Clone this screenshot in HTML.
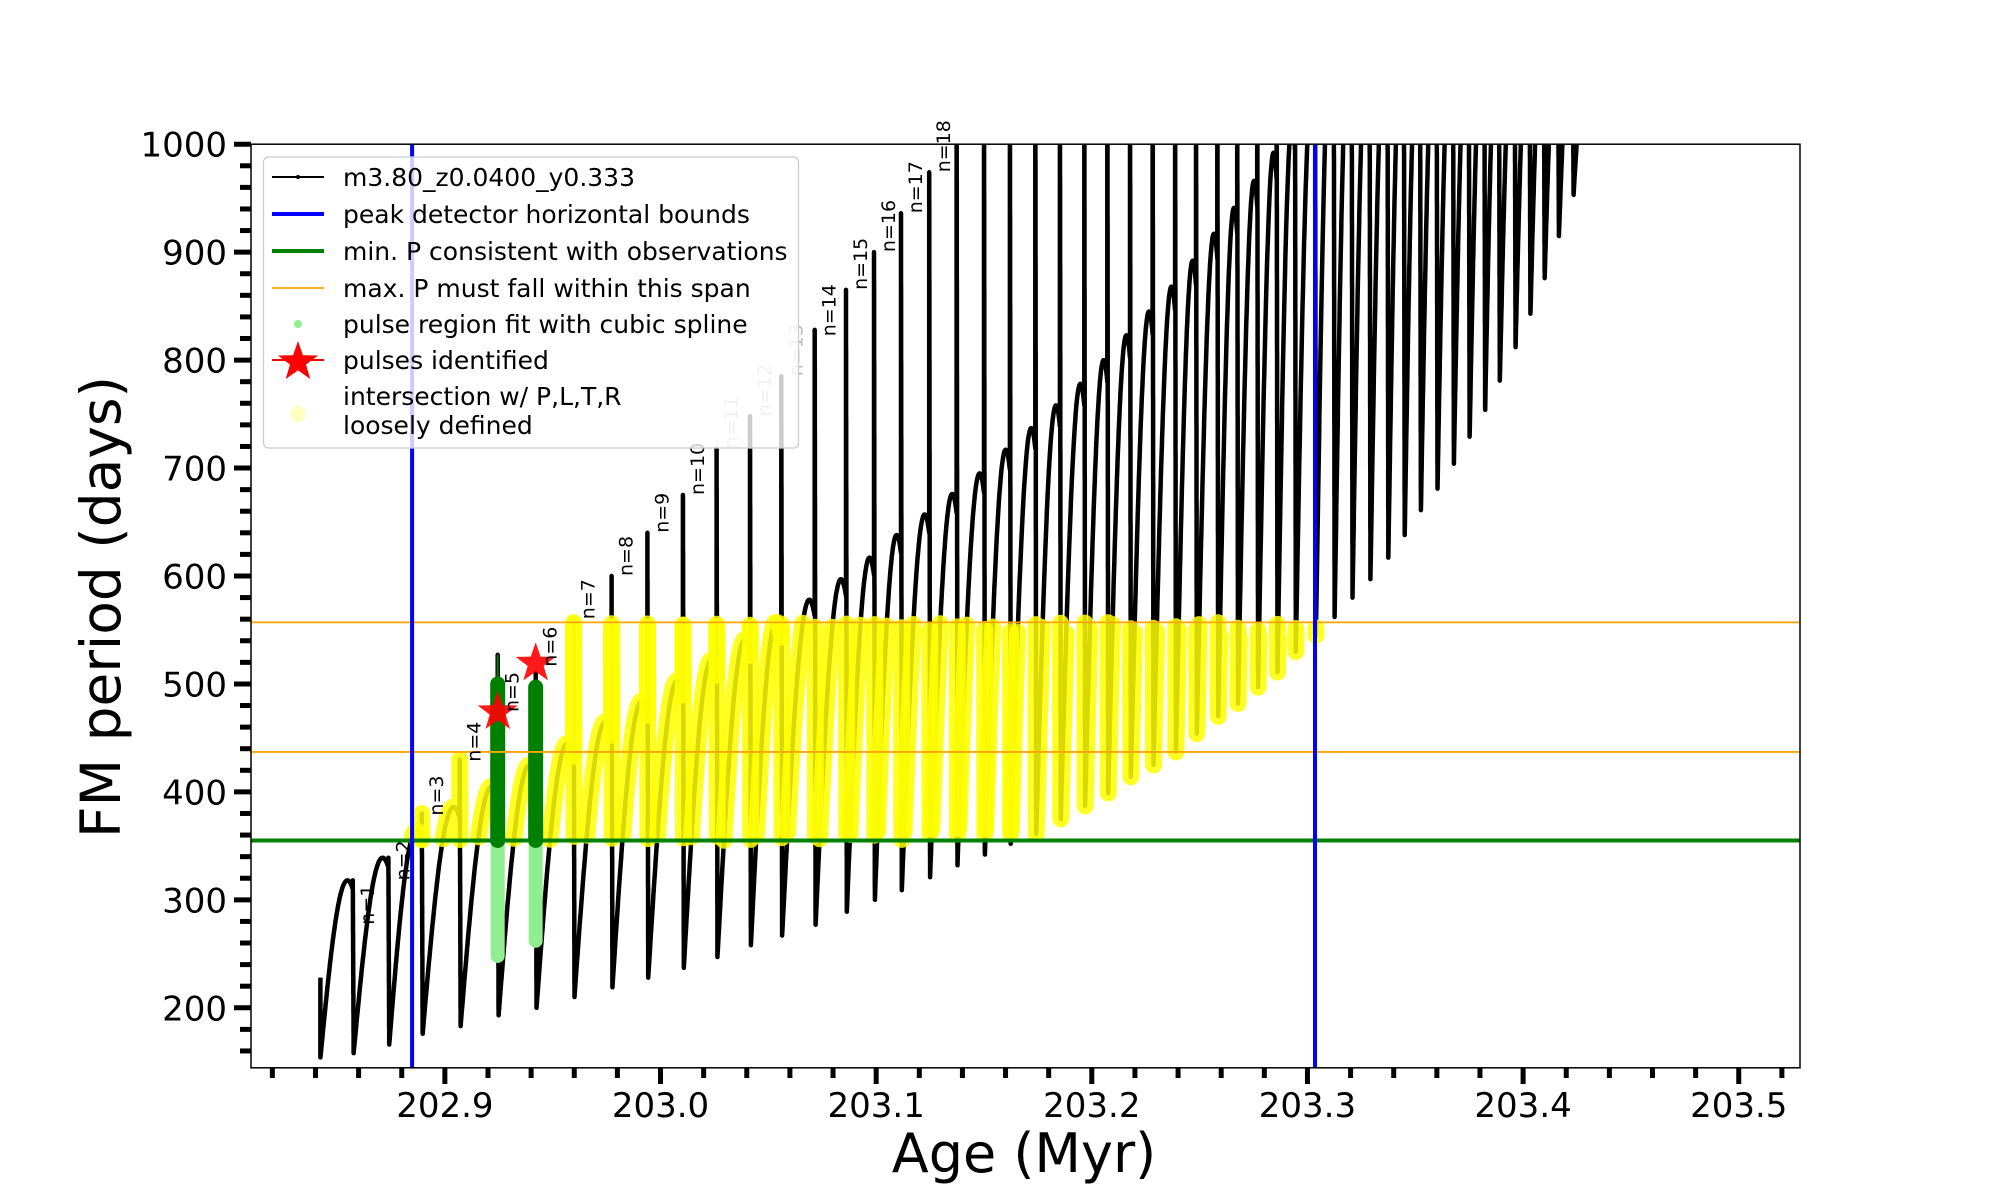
<!DOCTYPE html>
<html><head><meta charset="utf-8"><style>
html,body{margin:0;padding:0;background:#fff;}
svg{display:block;font-family:"DejaVu Sans","Liberation Sans",sans-serif;}
</style></head><body>
<svg id="chart" width="2000" height="1200" viewBox="0 0 2000 1200" xmlns="http://www.w3.org/2000/svg">
<rect x="0" y="0" width="2000" height="1200" fill="#fff"/>
<defs><clipPath id="plotclip"><rect x="251" y="144" width="1549" height="924"/></clipPath></defs>
<g id="marks" clip-path="url(#plotclip)"></g>
<g id="labels"></g>
<rect x="251" y="144.2" width="1549" height="923.6" fill="none" stroke="#000" stroke-width="1.5"/>
<g id="ticks"></g>
<text x="1024" y="1172" font-size="54" text-anchor="middle">Age (Myr)</text>
<text transform="translate(120,607) rotate(-90)" font-size="55" text-anchor="middle">FM period (days)</text>
<g>
<rect x="263.5" y="157" width="535" height="291" rx="5" fill="#fff" fill-opacity="0.8" stroke="#ccc" stroke-width="1.3"/>
<g><line x1="272" y1="177" x2="324" y2="177" stroke="#000" stroke-width="2"/><circle cx="298" cy="177" r="2" fill="#000"/><text x="343" y="186" font-size="25">m3.80_z0.0400_y0.333</text></g>
<g><line x1="272" y1="214" x2="324" y2="214" stroke="#0000ff" stroke-width="4"/><text x="343" y="223" font-size="25">peak detector horizontal bounds</text></g>
<g><line x1="272" y1="251" x2="324" y2="251" stroke="#008000" stroke-width="4"/><text x="343" y="260" font-size="25">min. P consistent with observations</text></g>
<g><line x1="272" y1="288" x2="324" y2="288" stroke="#ffa500" stroke-width="1.8"/><text x="343" y="297" font-size="25">max. P must fall within this span</text></g>
<g><circle cx="298" cy="324" r="4" fill="#90ee90"/><text x="343" y="333" font-size="25">pulse region fit with cubic spline</text></g>
<g><line x1="272" y1="360" x2="324" y2="360" stroke="#ff0000" stroke-width="2"/><path id="legstar" fill="#ff0000" d=""/><text x="343" y="369" font-size="25">pulses identified</text></g>
<g><circle cx="298" cy="414" r="8" fill="#ffff66" fill-opacity="0.4"/><text x="343" y="405" font-size="25">intersection w/ P,L,T,R</text><text x="343" y="434" font-size="25">loosely defined</text></g>
</g>
</svg>
<script>
const pulseAge = [202.8573,202.8738,202.8893,202.9069,202.9245,202.9421,202.9597,202.9773,202.9939,203.0104,203.0260,203.0415,203.0560,203.0715,203.0860,203.0990,203.1115,203.1246,203.1373,203.1500,203.1620,203.1738,203.1852,203.1965,203.2072,203.2177,203.2282,203.2386,203.2483,203.2582,203.2674,203.2767,203.2857,203.2942,203.3035,203.3122,203.3205,203.3288,203.3371,203.3447,203.3522,203.3599,203.3675,203.3748,203.3820,203.3888,203.3961,203.4030,203.4096,203.4162,203.4230];
const arcMax = [318,339,364,386,405,425,445,465,484,503,522,541,558,578,597,617,638,657,676,695,717,737,758,778,800,823,845,868,892,917,941,966,992,1020,1050,1100,1100,1100,1100,1100,1100,1100,1100,1100,1100,1100,1100,1100,1100,1100,1100];
const spikeTop = [318,339,380,430,527,510,560,600,640,675,718,748,785,828,865,900,936,974,1100,1100,1100,1100,1100,1100,1100,1100,1100,1100,1100,1100,1100,1100,1100,1100,1100,1100,1100,1100,1100,1100,1100,1100,1100,1100,1100,1100,1100,1100,1100,1100,1100];
const dipMin = [158,166,176,183,193,200,210,219,228,237,247,258,267,277,289,300,309,321,332,342,352,361,375,387,399,414,425,437,454,470,482,497,511,530,545,562,580,597,617,638,661,681,704,729,754,781,812,843,876,915,953];
const startAge = 202.8423;
const startTop = 228;
const startDip = 154;
const labelNames = ["n=1","n=2","n=3","n=4","n=5","n=6","n=7","n=8","n=9","n=10","n=11","n=12","n=13","n=14","n=15","n=16","n=17","n=18"];
const labelP = [277,318,378,428,474,516,560,600,640,675,718,748,785,822,865,900,936,974];
const greyLabels = [10,11,12];
const minP = 355;
const maxPLow = 437;
const maxPHigh = 557;
const boundLeft = 202.8848;
const boundRight = 203.3035;
const splineAges = [202.9245,202.9421];
const splineTop = [500,497];
const splineLow = [248,262];
const starAges = [202.9245,202.9421];
const starP = [474,519];
const xTicks = [202.9,203.0,203.1,203.2,203.3,203.4,203.5];
const xTickLabels = ["202.9","203.0","203.1","203.2","203.3","203.4","203.5"];
const yTicks = [200,300,400,500,600,700,800,900,1000];
const yTickLabels = ["200","300","400","500","600","700","800","900","1000"];

const NS="http://www.w3.org/2000/svg";
const X0=202.8101, X1=203.5284, Y0=144.4, Y1=1000;
function X(a){return 251+(a-X0)/(X1-X0)*1549;}
function Y(p){return 1067.8-(p-Y0)/(Y1-Y0)*923.6;}
function mk(tag,attrs,parent){const e=document.createElementNS(NS,tag);for(const k in attrs)e.setAttribute(k,attrs[k]);parent.appendChild(e);return e;}
const marks=document.getElementById('marks');
const labels=document.getElementById('labels');
const ticks=document.getElementById('ticks');

// build curve
const pts=[];
for(let j=0;j<=20;j++){pts.push([startAge,startTop+(startDip-startTop)*j/20]);}
let prevAge=startAge, prevDip=startDip;
for(let k=0;k<pulseAge.length;k++){
  const t=pulseAge[k];
  let endP=0;
  for(let j=1;j<=60;j++){const u=j/60;endP=prevDip+(arcMax[k]-prevDip)*Math.sin(u*0.6*Math.PI);pts.push([prevAge+u*(t-prevAge),endP]);}
  const top=Math.max(spikeTop[k],endP);
  for(let j=1;j<=40;j++){pts.push([t,endP+(top-endP)*j/40]);}
  for(let j=1;j<=80;j++){pts.push([t+0.0004*j/80,top+(dipMin[k]-top)*j/80]);}
  prevAge=t+0.0004; prevDip=dipMin[k];
}
for(let j=1;j<=30;j++){const u=j/30;pts.push([prevAge+u*0.0075,prevDip+(1100-prevDip)*Math.sin(u*0.55*Math.PI)]);}

const curve=mk('polyline',{points:pts.map(p=>X(p[0]).toFixed(1)+','+Y(p[1]).toFixed(1)).join(' '),fill:'none',stroke:'#000','stroke-width':4.5,'stroke-linejoin':'round'},marks);



// yellow intersection runs
const yg=mk('g',{},marks);


let run=[];
function flush(){if(run.length>0){const pl=mk('polyline',{points:run.join(' '),fill:'none',stroke:'#ffff00','stroke-opacity':0.85,'stroke-width':17,'stroke-linecap':'round','stroke-linejoin':'round'},yg);}run=[];}
for(const p of pts){
  const nearSpline=splineAges.some(s=>Math.abs(p[0]-s)<0.0008);
  const ok=!nearSpline&&p[1]>=minP&&p[1]<=maxPHigh&&p[0]>=boundLeft&&p[0]<=boundRight+0.001;
  if(ok)run.push(X(p[0]).toFixed(1)+','+Y(p[1]).toFixed(1));else flush();
}
flush();

// spline regions
for(let i=0;i<splineAges.length;i++){
  const lg=mk('line',{x1:X(splineAges[i]),x2:X(splineAges[i]),y1:Y(minP),y2:Y(splineLow[i]),stroke:'#90ee90','stroke-width':14,'stroke-linecap':'round'},marks);
  
  
  const dg=mk('line',{x1:X(splineAges[i]),x2:X(splineAges[i]),y1:Y(minP),y2:Y(splineTop[i]),stroke:'#008000','stroke-width':15,'stroke-linecap':'round'},marks);
  
  
}
const thin=mk('line',{x1:X(splineAges[0]),x2:X(splineAges[0]),y1:Y(splineTop[0]),y2:Y(527),stroke:'#008000','stroke-width':2},marks);



// reference lines
[[maxPLow,'max-p-lower-line'],[maxPHigh,'max-p-upper-line']].forEach(([v,n])=>{const l=mk('line',{x1:251,x2:1800,y1:Y(v),y2:Y(v),stroke:'#ffa500','stroke-width':1.8},marks);});
const gl=mk('line',{x1:251,x2:1800,y1:Y(minP),y2:Y(minP),stroke:'#008000','stroke-width':4},marks);


[[boundLeft,'left-bound-line'],[boundRight,'right-bound-line']].forEach(([v,n])=>{const l=mk('line',{x1:X(v),x2:X(v),y1:144,y2:1068,stroke:'#0000ff','stroke-width':4},marks);});

// labels
for(let i=0;i<labelNames.length;i++){
  const x=X(pulseAge[i])+21, y=Y(labelP[i]);
  const t=mk('text',{transform:`translate(${x.toFixed(1)},${y.toFixed(1)}) rotate(-90)`,'font-size':19,fill:greyLabels.includes(i)?'#bbbbbb':'#000'},labels);
  t.textContent=labelNames[i];
  
  
}

// stars
function star(cx,cy,R){let d='';for(let i=0;i<10;i++){const r=i%2?R*0.4:R;const a=-Math.PI/2+i*Math.PI/5;d+=(i?'L':'M')+(cx+r*Math.cos(a)).toFixed(1)+','+(cy+r*Math.sin(a)).toFixed(1);}return d+'Z';}
for(let i=0;i<starAges.length;i++){
  const s=mk('path',{d:star(X(starAges[i]),Y(starP[i]),21),fill:'#ff0000','fill-opacity':0.9},marks);
  
  
}
document.getElementById('legstar').setAttribute('d',star(298,362,21));

// ticks
for(let i=0;i<xTicks.length;i++){
  const x=X(xTicks[i]);
  const l=mk('line',{x1:x,x2:x,y1:1068,y2:1084,stroke:'#000','stroke-width':5},ticks);
  
  
  const t=mk('text',{x:x,y:1117,'font-size':34,'text-anchor':'middle'},ticks);
  t.textContent=xTickLabels[i];
  
  
}
for(let v=202.82;v<=203.521;v+=0.02){
  if(xTicks.some(m=>Math.abs(m-v)<1e-6))continue;
  const x=X(v);
  const l=mk('line',{x1:x,x2:x,y1:1068,y2:1078,stroke:'#000','stroke-width':5},ticks);
  
  
}
for(let i=0;i<yTicks.length;i++){
  const y=Y(yTicks[i]);
  const l=mk('line',{x1:234,x2:251,y1:y,y2:y,stroke:'#000','stroke-width':5},ticks);
  
  
  const t=mk('text',{x:227,y:y+12.5,'font-size':34,'text-anchor':'end'},ticks);
  t.textContent=yTickLabels[i];
  
  
}
for(let v=160;v<1000;v+=20){
  if(v%100===0)continue;
  const y=Y(v);
  const l=mk('line',{x1:240,x2:251,y1:y,y2:y,stroke:'#000','stroke-width':5},ticks);
  
  
}
</script>
</body></html>
